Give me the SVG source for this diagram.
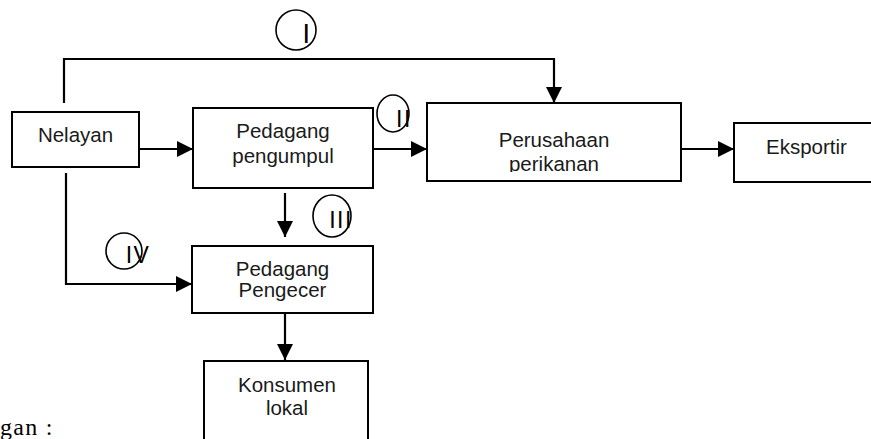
<svg xmlns="http://www.w3.org/2000/svg" width="871" height="439" viewBox="0 0 871 439">
<style>
.box{fill:#fff;stroke:#000;stroke-width:2}
.lbl{font-family:"Liberation Sans",Arial,sans-serif;font-size:20.5px;fill:#1a1a1a;text-anchor:middle}
.num{font-family:"Liberation Sans",Arial,sans-serif;font-size:23px;fill:#000;text-anchor:middle;letter-spacing:1.5px}
.ring{fill:none;stroke:#000;stroke-width:1.6}
.con{fill:none;stroke:#000;stroke-width:2.2}
</style>
<defs>
<marker id="ah" markerUnits="userSpaceOnUse" markerWidth="16" markerHeight="16" refX="16" refY="8" orient="auto">
<path d="M0,0 L16,8 L0,16 z" fill="#000"/>
</marker>
<clipPath id="cp1"><rect x="428" y="104" width="252" height="68"/></clipPath>
<clipPath id="cp2"><rect x="193" y="247" width="179" height="54"/></clipPath>
</defs>
<g id="connectors">
<polyline class="con" points="64,103 64,59 554,59 554,103" marker-end="url(#ah)"/>
<line class="con" x1="139" y1="149" x2="193" y2="149" marker-end="url(#ah)"/>
<line class="con" x1="373" y1="149" x2="427" y2="149" marker-end="url(#ah)"/>
<line class="con" x1="681" y1="149" x2="734" y2="149" marker-end="url(#ah)"/>
<line class="con" x1="285" y1="193" x2="285" y2="237" marker-end="url(#ah)"/>
<polyline class="con" points="66,173 66,284 192,284" marker-end="url(#ah)"/>
<line class="con" x1="285" y1="313" x2="285" y2="360" marker-end="url(#ah)"/>
</g>
<g id="nelayan">
<rect class="box" x="12" y="112" width="127" height="55"/>
<text class="lbl" x="75.5" y="142">Nelayan</text>
</g>
<g id="pedagang-pengumpul">
<rect class="box" x="193" y="108" width="180" height="80"/>
<text class="lbl" x="283" y="138">Pedagang</text>
<text class="lbl" x="283" y="163">pengumpul</text>
</g>
<g id="perusahaan-perikanan">
<rect class="box" x="427" y="103" width="254" height="78"/>
<g clip-path="url(#cp1)">
<text class="lbl" x="554" y="147">Perusahaan</text>
<text class="lbl" x="554" y="171">perikanan</text>
</g>
</g>
<g id="eksportir">
<rect class="box" x="734" y="123" width="150" height="59"/>
<text class="lbl" x="806.5" y="154">Eksportir</text>
</g>
<g id="pedagang-pengecer">
<rect class="box" x="192" y="246" width="181" height="67"/>
<g clip-path="url(#cp2)">
<text class="lbl" x="282.5" y="276">Pedagang</text>
<text class="lbl" x="282.5" y="297">Pengecer</text>
</g>
</g>
<g id="konsumen-lokal">
<rect class="box" x="204" y="361" width="164" height="90"/>
<text class="lbl" x="287" y="392">Konsumen</text>
<text class="lbl" x="287" y="415">lokal</text>
</g>
<g id="label-I">
<ellipse class="ring" cx="296" cy="30" rx="20" ry="20"/>
<text class="num" x="307" y="43" style="font-size:27px">I</text>
</g>
<g id="label-II">
<ellipse class="ring" cx="393" cy="113.5" rx="16" ry="18.5"/>
<text class="num" x="404" y="127">II</text>
</g>
<g id="label-III">
<ellipse class="ring" cx="332" cy="216" rx="19" ry="21"/>
<text class="num" x="341" y="228">III</text>
</g>
<g id="label-IV">
<ellipse class="ring" cx="124" cy="251" rx="18" ry="18"/>
<text class="num" x="138" y="263">IV</text>
</g>
<text x="0" y="435" style="font-family:'Liberation Serif','Times New Roman',serif;font-size:24px;letter-spacing:1.3px;fill:#000">gan :</text>
</svg>
